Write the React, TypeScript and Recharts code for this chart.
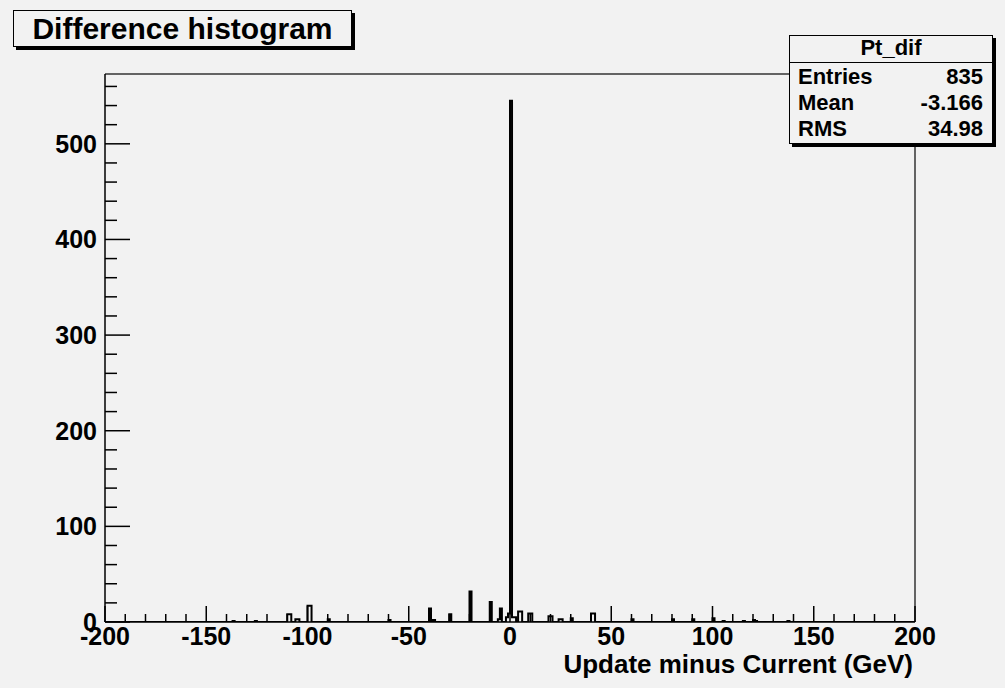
import React from 'react';
import { ComposedChart, Line, XAxis, YAxis, ReferenceLine } from 'recharts';

// lower edge (GeV) of each non-empty 1 GeV bin, and its entries
const binLow = [-137, -126, -110, -109, -106, -105, -100, -99, -90, -60, -40, -38, -30, -20, -10, -6, -5, -2, -1, 0, 1, 2, 4, 5, 9, 10, 19, 20, 24, 25, 30, 40, 41, 60, 80, 90, 100, 105, 115, 120, 121, 137];
const binCount = [1, 1, 8, 8, 3, 3, 17, 17, 3, 2, 14, 2, 8, 32, 21, 3, 14, 5, 9, 545, 5, 5, 11, 11, 9, 9, 6, 6, 3, 3, 4, 9, 9, 3, 3, 3, 4, 1, 1, 2, 1, 1];

const xLabels = [-200, -150, -100, -50, 0, 50, 100, 150, 200];
const yLabels = [0, 100, 200, 300, 400, 500];

const statNames = ['Entries', 'Mean', 'RMS'];
const statValues = ['835', '-3.166', '34.98'];

const FONT = '"Liberation Sans", Arial, Helvetica, sans-serif';

const histData: { x: number; count: number }[] = [];
for (let lo = -200; lo <= 200; lo++) {
  const i = binLow.indexOf(lo);
  histData.push({ x: lo, count: i >= 0 ? binCount[i] : 0 });
}

const xTicks = Array.from({ length: 41 }, (_, i) => -200 + i * 10);
const yTicks = Array.from({ length: 29 }, (_, i) => i * 20);

const XTick = (props: any) => {
  const { x, y, payload } = props;
  const v = payload.value;
  const major = xLabels.includes(v);
  return (
    <g>
      <line x1={x} x2={x} y1={y} y2={y - (major ? 16 : 8)} stroke="#000" strokeWidth={1.5} />
      {major && (
        <text x={x} y={y + 23} textAnchor="middle" fontSize={25} fontWeight="bold" fontFamily={FONT} fill="#000">
          {v}
        </text>
      )}
    </g>
  );
};

const YTick = (props: any) => {
  const { x, y, payload } = props;
  const v = payload.value;
  const major = yLabels.includes(v);
  return (
    <g>
      <line x1={x} x2={x + (major ? 25 : 12)} y1={y} y2={y} stroke="#000" strokeWidth={1.5} />
      {major && (
        <text x={x - 8} y={y + 9} textAnchor="end" fontSize={25} fontWeight="bold" fontFamily={FONT} fill="#000">
          {v}
        </text>
      )}
    </g>
  );
};

export default function App() {
  return (
    <div style={{ position: 'absolute', left: 0, top: 0, width: 1005, height: 688, background: '#f2f2f2', fontFamily: FONT }}>
      <ComposedChart width={1005} height={688} data={histData} margin={{ top: 74, right: 90, bottom: 36, left: 45 }}>
        <XAxis
          dataKey="x"
          type="number"
          domain={[-200, 200]}
          ticks={xTicks}
          interval={0}
          tick={<XTick />}
          tickLine={false}
          tickSize={0}
          tickMargin={0}
          height={30}
          axisLine={{ stroke: '#000', strokeWidth: 1.5 }}
          allowDataOverflow
        />
        <YAxis
          type="number"
          domain={[0, 573]}
          ticks={yTicks}
          interval={0}
          tick={<YTick />}
          tickLine={false}
          tickSize={0}
          tickMargin={0}
          width={60}
          axisLine={{ stroke: '#000', strokeWidth: 1.5 }}
          allowDataOverflow
        />
        <ReferenceLine y={573} stroke="#333" strokeWidth={1.5} />
        <ReferenceLine x={200} stroke="#333" strokeWidth={1.5} />
        <Line
          type="stepAfter"
          dataKey="count"
          stroke="#000"
          strokeWidth={2}
          dot={false}
          activeDot={false}
          isAnimationActive={false}
        />
      </ComposedChart>

      <div
        style={{
          position: 'absolute', left: 13, top: 10, width: 337, height: 35,
          border: '1px solid #000', boxShadow: '3px 3px 0 #000', background: '#f2f2f2',
          fontSize: 30, fontWeight: 'bold', textAlign: 'center', lineHeight: '35px',
        }}
      >
        Difference histogram
      </div>

      <div
        style={{
          position: 'absolute', left: 789, top: 35, width: 202, height: 107,
          border: '1px solid #000', boxShadow: '3px 3px 0 #000', background: '#f2f2f2',
          fontWeight: 'bold', fontSize: 22,
        }}
      >
        <div style={{ height: 26, lineHeight: '24px', textAlign: 'center', borderBottom: '1.5px solid #000' }}>Pt_dif</div>
        {statNames.map((n, i) => (
          <div key={n} style={{ display: 'flex', justifyContent: 'space-between', height: 26, lineHeight: '27px', padding: '0 9px 0 8px' }}>
            <span>{n}</span>
            <span>{statValues[i]}</span>
          </div>
        ))}
      </div>

      <div
        style={{
          position: 'absolute', right: 1005 - 913, top: 651, fontSize: 26, lineHeight: 1, fontWeight: 'bold', whiteSpace: 'nowrap',
        }}
      >
        Update minus Current (GeV)
      </div>
    </div>
  );
}
